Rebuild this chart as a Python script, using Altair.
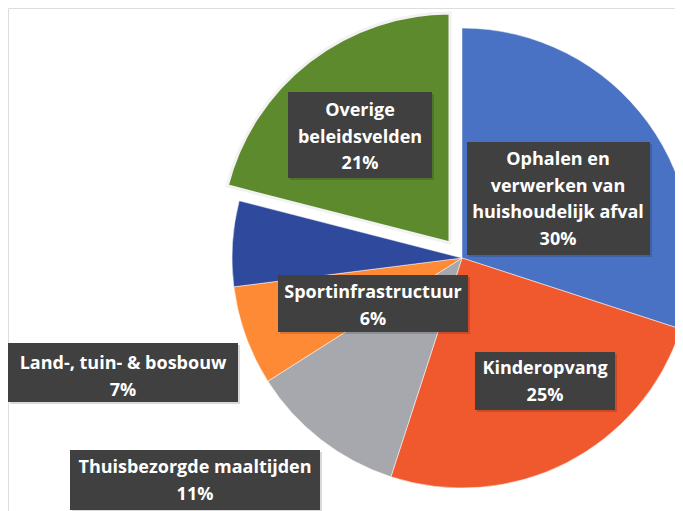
import math
import altair as alt
import pandas as pd

# Data
categories = ["Ophalen en verwerken van huishoudelijk afval", "Kinderopvang",
              "Thuisbezorgde maaltijden", "Land-, tuin- & bosbouw",
              "Sportinfrastructuur", "Overige beleidsvelden"]
values = [30, 25, 11, 7, 6, 21]
colors = ["#4A72C4", "#F0582E", "#A6A8AE", "#FF8A35", "#2F4A9C", "#5E8A2E"]
label_lines = [
    ["Ophalen en", "verwerken van", "huishoudelijk afval", "30%"],
    ["Kinderopvang", "25%"],
    ["Thuisbezorgde maaltijden", "11%"],
    ["Land-, tuin- & bosbouw", "7%"],
    ["Sportinfrastructuur", "6%"],
    ["Overige", "beleidsvelden", "21%"],
]

# Layout (pixels)
CX, CY, R = 454, 250, 230
EXPLODE = (-12, -15)
label_first_line = [(550, 152), (537, 361), (187, 460), (115, 356), (365, 285), (352, 103)]
box = [(459, 642, 134, 247), (467, 607, 344, 402), (62, 312, 442, 502),
       (0, 230, 335, 394), (270, 460, 267, 324), (280, 424, 84, 170)]

df = pd.DataFrame({"category": categories, "value": values, "order": range(len(values))})

color_scale = alt.Scale(domain=categories, range=colors)
theta_scale = alt.Scale(domain=[0, 100], range=[0, 2 * math.pi])

base = alt.Chart(df).transform_window(
    cum="sum(value)", sort=[alt.SortField("order")], frame=[None, 0]
).transform_calculate(start="datum.cum - datum.value")

enc = dict(
    theta=alt.Theta("start:Q", scale=theta_scale),
    theta2="cum:Q",
    color=alt.Color("category:N", scale=color_scale, legend=None),
)

pie = base.transform_filter(alt.datum.category != "Overige beleidsvelden").mark_arc(
    radius=R, stroke="#FFFFFF", strokeWidth=0.5
).encode(x=alt.value(CX), y=alt.value(CY), **enc)

green = base.transform_filter(alt.datum.category == "Overige beleidsvelden").mark_arc(
    radius=R, stroke="#F2F2F2", strokeWidth=3
).encode(x=alt.value(CX + EXPLODE[0]), y=alt.value(CY + EXPLODE[1]), **enc)

lab = pd.DataFrame({
    "text": ["\n".join(l) for l in label_lines],
    "tx": [c[0] for c in label_first_line],
    "ty": [c[1] for c in label_first_line],
    "x1": [b[0] for b in box], "x2": [b[1] for b in box],
    "y1": [b[2] for b in box], "y2": [b[3] for b in box],
})

shadow = alt.Chart(lab).mark_rect(color="#000000", opacity=0.15).encode(
    x=alt.X("sx1:Q", scale=None), x2="sx2:Q",
    y=alt.Y("sy1:Q", scale=None), y2="sy2:Q",
).transform_calculate(sx1="datum.x1 + 2", sx2="datum.x2 + 2",
                      sy1="datum.y1 + 2", sy2="datum.y2 + 2")

boxes = alt.Chart(lab).mark_rect(color="#404040").encode(
    x=alt.X("x1:Q", scale=None), x2="x2:Q",
    y=alt.Y("y1:Q", scale=None), y2="y2:Q",
)

texts = alt.Chart(lab).mark_text(
    color="#FFFFFF", font="Open Sans", fontSize=18, fontWeight="bold", lineBreak="\n",
    lineHeight=26.5, align="center", baseline="middle",
).encode(
    x=alt.X("tx:Q", scale=None), y=alt.Y("ty:Q", scale=None), text="text:N",
)

chart = alt.layer(pie, green, shadow, boxes, texts).properties(
    width=667, height=503, padding=0,
    autosize=alt.AutoSizeParams(type="none"),
).configure_view(stroke="transparent", strokeWidth=0).configure(background="#FFFFFF")

chart.save("out.html", embed_options={"renderer": "svg", "actions": False})
